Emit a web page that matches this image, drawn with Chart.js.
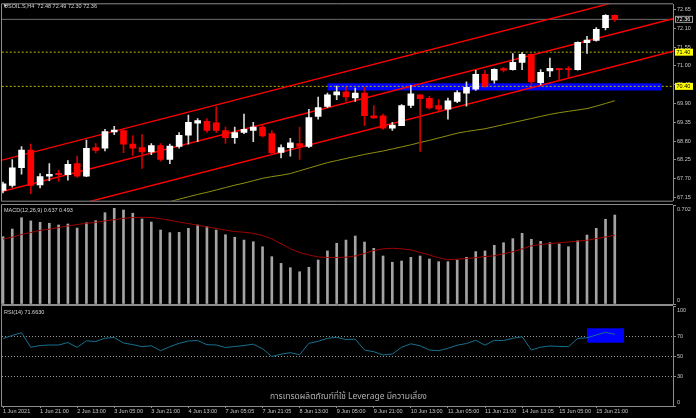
<!DOCTYPE html>
<html>
<head>
<meta charset="utf-8">
<script src="https://cdn.jsdelivr.net/npm/chart.js@4.4.1/dist/chart.umd.min.js"></script>
<style>
  html, body { margin: 0; padding: 0; background: #000; }
  #wrap { position: relative; width: 696px; height: 418px; overflow: hidden; background: #000; }
  canvas { position: absolute; left: 0; }
</style>
</head>
<body>
<div id="wrap">
  <canvas id="priceChart" width="696" height="205" style="top:0px"></canvas>
  <canvas id="macdChart" width="696" height="101" style="top:204px"></canvas>
  <canvas id="rsiChart" width="696" height="113" style="top:305px"></canvas>
</div>
<script>
(function () {
    'use strict';

    // H4 candles, USOIL.S
    var opens = [67.36, 67.50, 68.02, 68.54, 67.52, 67.77, 67.86, 67.82, 68.14, 67.77, 68.61, 68.59, 69.07, 69.11, 68.71, 68.61, 68.48, 68.67, 68.26, 68.64, 68.97, 69.32, 69.38, 69.33, 69.11, 68.90, 69.05, 69.11, 69.21, 69.02, 68.47, 68.61, 68.73, 68.64, 69.52, 69.81, 70.15, 70.24, 70.06, 70.20, 69.54, 69.54, 69.18, 69.25, 69.84, 70.15, 70.05, 69.84, 69.73, 69.96, 70.20, 70.32, 70.75, 70.58, 70.92, 70.89, 71.10, 71.34, 70.51, 70.85, 70.92, 70.92, 70.89, 71.68, 71.74, 72.12, 72.48];
    var highs = [67.60, 68.26, 68.64, 68.71, 67.85, 68.14, 67.95, 68.23, 68.36, 68.83, 68.73, 69.14, 69.23, 69.16, 68.95, 68.99, 68.73, 68.73, 68.71, 69.05, 69.56, 69.46, 69.46, 69.80, 69.21, 69.21, 69.59, 69.35, 69.25, 69.11, 68.69, 68.88, 69.21, 69.73, 70.09, 70.20, 70.41, 70.37, 70.35, 70.37, 69.84, 69.59, 69.35, 69.87, 70.43, 70.15, 70.11, 70.01, 70.06, 70.28, 70.53, 70.87, 70.87, 70.91, 70.96, 71.36, 71.39, 71.36, 70.89, 71.23, 70.93, 70.98, 71.70, 71.86, 72.12, 72.50, 72.49];
    var lows = [67.28, 67.45, 67.83, 67.26, 67.43, 67.64, 67.62, 67.66, 67.74, 67.76, 68.45, 68.51, 68.99, 68.45, 68.38, 68.00, 68.40, 68.21, 68.14, 68.59, 68.71, 68.78, 69.05, 69.05, 68.73, 68.73, 69.02, 68.78, 68.92, 68.40, 68.31, 68.36, 68.26, 68.61, 69.44, 69.78, 70.01, 69.96, 69.96, 69.25, 69.46, 69.14, 69.11, 69.25, 69.78, 68.50, 69.73, 69.68, 69.44, 69.92, 69.82, 70.28, 70.37, 70.49, 70.82, 70.87, 70.89, 70.44, 70.44, 70.68, 70.58, 70.63, 70.87, 71.36, 71.72, 72.05, 72.30];
    var closes = [67.55, 68.02, 68.54, 67.50, 67.76, 67.83, 67.82, 68.12, 67.77, 68.59, 68.53, 69.08, 69.12, 68.71, 68.59, 68.48, 68.67, 68.26, 68.65, 68.97, 69.35, 69.40, 69.11, 69.11, 68.90, 69.05, 69.14, 69.21, 68.95, 68.45, 68.61, 68.75, 68.64, 69.49, 69.78, 70.15, 70.24, 70.09, 70.20, 69.54, 69.48, 69.18, 69.27, 69.84, 70.18, 70.04, 69.77, 69.73, 69.98, 70.22, 70.37, 70.75, 70.41, 70.90, 70.87, 71.10, 71.34, 70.53, 70.81, 70.93, 70.89, 70.89, 71.69, 71.75, 72.07, 72.48, 72.36];

    // moving average (olive line), starts below the visible range
    var ma = [null, null, null, null, null, null, null, null, null, null, null, null, null, null, null, null, null, null,
        67.03, 67.10, 67.17, 67.24, 67.30, 67.37, 67.44, 67.51, 67.57, 67.64, 67.71, 67.76, 67.80, 67.85, 67.93, 68.01, 68.09, 68.17, 68.23, 68.29, 68.35, 68.41, 68.46, 68.51, 68.57, 68.63, 68.69, 68.76, 68.82, 68.89, 68.96, 69.03, 69.08, 69.12, 69.16, 69.22, 69.28, 69.34, 69.40, 69.46, 69.52, 69.58, 69.63, 69.67, 69.71, 69.75, 69.82, 69.90, 69.98];

    var macdHist = [0.482, 0.537, 0.618, 0.595, 0.585, 0.578, 0.566, 0.573, 0.544, 0.582, 0.597, 0.654, 0.685, 0.673, 0.650, 0.609, 0.587, 0.530, 0.511, 0.513, 0.542, 0.566, 0.554, 0.530, 0.496, 0.478, 0.458, 0.446, 0.410, 0.339, 0.291, 0.260, 0.231, 0.263, 0.315, 0.380, 0.435, 0.458, 0.487, 0.444, 0.399, 0.344, 0.299, 0.308, 0.334, 0.344, 0.322, 0.303, 0.303, 0.315, 0.334, 0.375, 0.380, 0.420, 0.439, 0.468, 0.506, 0.463, 0.449, 0.439, 0.430, 0.410, 0.453, 0.494, 0.542, 0.607, 0.637];
    var macdSignal = [0.465, 0.479, 0.498, 0.512, 0.527, 0.536, 0.547, 0.559, 0.569, 0.578, 0.585, 0.595, 0.604, 0.613, 0.619, 0.621, 0.619, 0.611, 0.600, 0.587, 0.576, 0.564, 0.552, 0.541, 0.529, 0.519, 0.514, 0.506, 0.490, 0.466, 0.431, 0.396, 0.369, 0.351, 0.337, 0.333, 0.333, 0.335, 0.344, 0.362, 0.383, 0.395, 0.399, 0.395, 0.387, 0.370, 0.351, 0.331, 0.317, 0.321, 0.325, 0.332, 0.340, 0.345, 0.360, 0.374, 0.394, 0.417, 0.426, 0.433, 0.438, 0.444, 0.450, 0.456, 0.469, 0.480, 0.493];
    var rsi = [67.5, 70.5, 73.3, 58.7, 60.5, 61, 61, 63.5, 58.7, 65.2, 64.5, 67.8, 68.5, 63, 61.4, 59.3, 60.2, 55.3, 59.3, 62.7, 65, 65.5, 61.3, 61, 58.5, 59.5, 60.5, 61.8, 57.2, 49.5, 51.8, 53.3, 51.3, 62.7, 64.7, 67.7, 68.7, 66.5, 66.8, 56, 54.3, 51, 52, 58.7, 62.2, 60.2, 56, 55.3, 57.7, 60.8, 62.5, 65.7, 60.8, 65.7, 65.4, 67.7, 69.3, 56, 58.8, 60, 59.6, 59.3, 67.6, 68.2, 71, 73.7, 71.663];

    var timeLabels = ['1 Jun 2021', '1 Jun 21:00', '2 Jun 13:00', '3 Jun 05:00', '3 Jun 21:00', '4 Jun 13:00', '7 Jun 05:05', '7 Jun 21:05', '8 Jun 13:00', '9 Jun 05:00', '9 Jun 21:00', '10 Jun 13:00', '11 Jun 05:00', '11 Jun 21:00', '14 Jun 13:05', '15 Jun 05:00', '15 Jun 21:00'];
    var labelEvery = 4;

    var priceTicks = [67.15, 67.70, 68.25, 68.80, 69.35, 69.90, 70.45, 71.00, 71.55, 72.10, 72.65];
    var macdTicks = [0, 0.702];
    var rsiTicks = [0, 30, 50, 70, 100];
    var rsiLevels = [30, 50, 70];

    var levels = [71.40, 70.40];
    var bidPrice = 72.36;

    // trend channel, read at two bar positions
    var channelIdx = [-1, 73];
    var channelUpper = [68.18, 73.35];
    var channelMiddle = [67.26, 72.43];
    var channelLower = [66.31, 71.48];

    // blue zones
    var zoneIdx = [35, 71];
    var zonePrice = [70.28, 70.49];
    var rsiZoneIdx = [63, 67];
    var rsiZoneVal = [63.3, 77.7];

    var FONT = '"Liberation Sans", Arial, sans-serif';
    var AXIS_GREY = '#8c8c8c';
    var TEXT_GREY = '#c8c8c8';
    var X_MIN = -0.108;
    var X_MAX = 72.28;

    Chart.defaults.font.family = FONT;
    Chart.defaults.font.size = 5.5;
    Chart.defaults.animation = false;
    Chart.defaults.events = [];

    var idx = closes.map(function (v, i) { return i; });

    function isBull(i) {
        return closes[i] >= opens[i];
    }

    function hLine(value) {
        return channelIdx.map(function (x) { return { 'x': x, 'y': value }; });
    }

    function pairLine(xs, ys) {
        return xs.map(function (x, k) { return { 'x': x, 'y': ys[k] }; });
    }

    function series(values) {
        return values.map(function (v, i) { return { 'x': i, 'y': v }; });
    }

    function xScale(show) {
        return {
            'type'   : 'linear',
            'min'    : X_MIN,
            'max'    : X_MAX,
            'offset' : false,
            'display': show,
            'grid'   : { 'display': false }
        };
    }

    function yRight(min, max, tickList, showLabels) {
        return {
            'position'   : 'right',
            'min'        : min,
            'max'        : max,
            'beginAtZero': false,
            'afterBuildTicks': function (s) {
                s.ticks = tickList.map(function (v) { return { 'value': v }; });
            },
            'afterFit': function (s) { s.width = 23; },
            'ticks'  : {
                'display' : showLabels,
                'color'   : TEXT_GREY,
                'padding' : 1,
                'font'    : { 'size': 5.5 },
                'callback': function (v) { return v.toFixed(2); }
            },
            'grid'   : {
                'display'        : true,
                'drawOnChartArea': false,
                'drawTicks'      : true,
                'tickLength'     : 3,
                'color'          : AXIS_GREY
            },
            'border' : { 'display': true, 'color': AXIS_GREY }
        };
    }

    var framePlugin = {
        'id': 'frame',
        'afterDraw': function (chart) {
            var a = chart.chartArea, c = chart.ctx;
            c.save();
            c.strokeStyle = AXIS_GREY;
            c.lineWidth = 1;
            c.beginPath();
            c.moveTo(a.right, a.top - 0.5);
            c.lineTo(a.left - 0.5, a.top - 0.5);
            c.lineTo(a.left - 0.5, a.bottom + 0.5);
            c.lineTo(a.right, a.bottom + 0.5);
            c.stroke();
            c.restore();
        }
    };

    function edgeLabels(fmt) {
        return {
            'id': 'edgeLabels',
            'afterDraw': function (chart) {
                var s = chart.scales.y, c = chart.ctx, a = chart.chartArea;
                c.save();
                c.font = '5.5px ' + FONT;
                c.fillStyle = TEXT_GREY;
                c.textAlign = 'left';
                c.textBaseline = 'middle';
                s.ticks.forEach(function (t) {
                    var py = Math.min(Math.max(s.getPixelForValue(t.value), a.top + 4), a.bottom - 4);
                    c.fillText(fmt(t.value), a.right + 4, py);
                });
                c.restore();
            }
        };
    }

    function headerText(text, y) {
        return {
            'id': 'header',
            'afterDraw': function (chart) {
                var c = chart.ctx;
                c.save();
                c.font = '5.5px ' + FONT;
                c.fillStyle = '#d4d4d4';
                c.textBaseline = 'middle';
                c.fillText(text, 4, y);
                c.restore();
            }
        };
    }

    function zoneRect(xs, ys) {
        return {
            'id': 'zone',
            'beforeDatasetsDraw': function (chart) {
                var sx = chart.scales.x, sy = chart.scales.y, c = chart.ctx;
                var x0 = sx.getPixelForValue(xs[0]), x1 = sx.getPixelForValue(xs[1]);
                var y0 = sy.getPixelForValue(ys[1]), y1 = sy.getPixelForValue(ys[0]);
                c.save();
                c.fillStyle = '#0000ff';
                c.fillRect(x0, y0, x1 - x0, y1 - y0);
                c.restore();
            }
        };
    }

    function tag(c, x, y, text, bg, fg, border) {
        c.fillStyle = bg;
        c.fillRect(x, y - 3.5, 18, 7);
        if (border) {
            c.strokeStyle = border;
            c.lineWidth = 1;
            c.strokeRect(x + 0.5, y - 3, 17, 6);
        }
        c.fillStyle = fg;
        c.fillText(text, x + 1.5, y + 0.3);
    }

    var priceTags = {
        'id': 'priceTags',
        'afterDraw': function (chart) {
            var sy = chart.scales.y, c = chart.ctx, a = chart.chartArea;
            c.save();
            c.font = '5.5px ' + FONT;
            c.textBaseline = 'middle';
            c.textAlign = 'left';
            levels.forEach(function (lv) {
                tag(c, a.right + 2, sy.getPixelForValue(lv), lv.toFixed(2), '#ffff00', '#000000');
            });
            tag(c, a.right + 2, sy.getPixelForValue(bidPrice), bidPrice.toFixed(2), '#000000', '#ffffff', '#a0a0a0');
            c.restore();
        }
    };

    var last = closes.length - 1;
    var mainTitle = 'USOIL.S,H4  ' + [opens[last], highs[last], lows[last], closes[last]].map(function (v) { return v.toFixed(2); }).join(' ');

    var triangle = {
        'id': 'triangle',
        'afterDraw': function (chart) {
            var c = chart.ctx;
            c.save();
            c.fillStyle = '#d4d4d4';
            c.beginPath();
            c.moveTo(3.5, 4.5);
            c.lineTo(7.5, 4.5);
            c.lineTo(5.5, 7);
            c.closePath();
            c.fill();
            c.restore();
        }
    };

    // ---- price panel
    new Chart(document.getElementById('priceChart'), { //eslint-disable-line
        'type': 'bar',
        'data': {
            'datasets': [
                {
                    'type'           : 'bar',
                    'data'           : idx.map(function (i) { return { 'x': i, 'y': [opens[i], closes[i]] }; }),
                    'backgroundColor': function (ctx) { return isBull(ctx.dataIndex) ? '#ffffff' : '#ff0000'; },
                    'barThickness'   : 6,
                    'minBarLength'   : 1,
                    'grouped'        : false,
                    'order'          : 0
                },
                {
                    'type'           : 'bar',
                    'data'           : idx.map(function (i) { return { 'x': i, 'y': [lows[i], highs[i]] }; }),
                    'backgroundColor': function (ctx) { return isBull(ctx.dataIndex) ? '#d8d8d8' : '#d00000'; },
                    'barThickness'   : 1,
                    'grouped'        : false,
                    'order'          : 1
                },
                { 'type': 'line', 'data': pairLine(channelIdx, channelUpper), 'borderColor': '#ff0000', 'borderWidth': 1.4, 'pointRadius': 0, 'order': 2 },
                { 'type': 'line', 'data': pairLine(channelIdx, channelMiddle), 'borderColor': '#ff0000', 'borderWidth': 1.4, 'pointRadius': 0, 'order': 2 },
                { 'type': 'line', 'data': pairLine(channelIdx, channelLower), 'borderColor': '#ff0000', 'borderWidth': 1.4, 'pointRadius': 0, 'order': 2 },
                { 'type': 'line', 'data': series(ma), 'borderColor': '#8f8f10', 'borderWidth': 1, 'pointRadius': 0, 'spanGaps': false, 'order': 3 },
                { 'type': 'line', 'data': hLine(levels[0]), 'borderColor': '#b8b800', 'borderWidth': 1, 'borderDash': [2, 2], 'pointRadius': 0, 'order': 4 },
                { 'type': 'line', 'data': hLine(levels[1]), 'borderColor': '#b8b800', 'borderWidth': 1, 'borderDash': [2, 2], 'pointRadius': 0, 'order': 4 },
                { 'type': 'line', 'data': hLine(bidPrice), 'borderColor': '#6e6e6e', 'borderWidth': 1, 'pointRadius': 0, 'order': 5 }
            ]
        },
        'options': {
            'responsive': false,
            'layout'    : { 'padding': { 'left': 2, 'top': 2, 'bottom': 1, 'right': 0 } },
            'plugins'   : { 'legend': { 'display': false }, 'tooltip': { 'enabled': false } },
            'scales'    : {
                'x': xScale(false),
                'y': yRight(67.056, 72.80, priceTicks, true)
            }
        },
        'plugins': [zoneRect(zoneIdx, zonePrice), framePlugin, priceTags, headerText(mainTitle, 6), triangle]
    });

    // ---- MACD panel
    var macdTitle = 'MACD(12,26,9) ' + macdHist[last].toFixed(3) + ' ' + macdSignal[last].toFixed(3);
    var macdY = yRight(0, 0.709, macdTicks, false);

    new Chart(document.getElementById('macdChart'), { //eslint-disable-line
        'type': 'bar',
        'data': {
            'datasets': [
                { 'type': 'line', 'data': series(macdSignal), 'borderColor': '#a00000', 'borderWidth': 1, 'pointRadius': 0, 'order': 0 },
                {
                    'type'           : 'bar',
                    'data'           : series(macdHist),
                    'backgroundColor': '#a4a4a4',
                    'barThickness'   : 2,
                    'grouped'        : false,
                    'order'          : 1
                }
            ]
        },
        'options': {
            'responsive': false,
            'layout'    : { 'padding': { 'left': 2, 'top': 1, 'bottom': 1, 'right': 0 } },
            'plugins'   : { 'legend': { 'display': false }, 'tooltip': { 'enabled': false } },
            'scales'    : { 'x': xScale(false), 'y': macdY }
        },
        'plugins': [framePlugin, edgeLabels(function (v) { return v === 0 ? '0' : v.toFixed(3); }), headerText(macdTitle, 6)]
    });

    // ---- RSI panel
    var rsiTitle = 'RSI(14) ' + rsi[last].toFixed(4);
    var rsiY = yRight(0, 100, rsiTicks, false);
    rsiY.grid.drawOnChartArea = true;
    rsiY.grid.color = function (ctx) {
        return ctx.tick && rsiLevels.indexOf(ctx.tick.value) >= 0 ? '#9a9a9a' : 'rgba(0,0,0,0)';
    };
    rsiY.grid.tickColor = AXIS_GREY;
    rsiY.border.dash = [1, 2];

    var rsiX = xScale(true);
    rsiX.afterBuildTicks = function (s) {
        s.ticks = timeLabels.map(function (t, k) { return { 'value': k * labelEvery }; });
    };
    rsiX.afterFit = function (s) { s.height = 12; };
    rsiX.ticks = {
        'color'      : TEXT_GREY,
        'font'       : { 'size': 5.5 },
        'align'      : 'start',
        'maxRotation': 0,
        'autoSkip'   : false,
        'padding'    : 0,
        'callback'   : function (v) { return timeLabels[Math.round(v / labelEvery)]; }
    };
    rsiX.grid = { 'display': true, 'drawOnChartArea': false, 'tickLength': 2, 'color': AXIS_GREY };
    rsiX.border = { 'display': false };

    var watermark = {
        'id': 'watermark',
        'afterDraw': function (chart) {
            var c = chart.ctx;
            c.save();
            c.font = '8.5px "Noto Sans Thai", "Noto Sans", "DejaVu Sans", sans-serif';
            c.fillStyle = '#b0b0b0';
            c.textBaseline = 'middle';
            c.fillText('การเทรดผลิตภัณฑ์ที่ใช้ Leverage มีความเสี่ยง', 270, 92);
            c.restore();
        }
    };

    new Chart(document.getElementById('rsiChart'), { //eslint-disable-line
        'type': 'line',
        'data': {
            'datasets': [
                { 'data': series(rsi), 'borderColor': '#17708f', 'borderWidth': 1, 'pointRadius': 0 }
            ]
        },
        'options': {
            'responsive': false,
            'layout'    : { 'padding': { 'left': 2, 'top': 1, 'bottom': 0, 'right': 0 } },
            'plugins'   : { 'legend': { 'display': false }, 'tooltip': { 'enabled': false } },
            'scales'    : { 'x': rsiX, 'y': rsiY }
        },
        'plugins': [zoneRect(rsiZoneIdx, rsiZoneVal), framePlugin, edgeLabels(function (v) { return String(v); }), headerText(rsiTitle, 7), watermark]
    });
}());
</script>
</body>
</html>
